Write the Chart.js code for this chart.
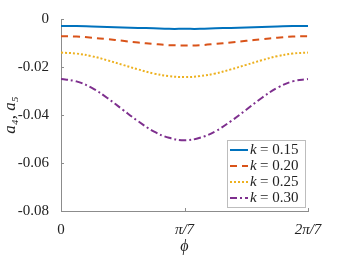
<!DOCTYPE html>
<html>
<head>
<meta charset="utf-8">
<script src="https://cdn.jsdelivr.net/npm/chart.js@4.4.0/dist/chart.umd.min.js"></script>
<style>
  html, body { margin: 0; padding: 0; background: #fff; }
  #wrap { width: 341px; height: 256px; position: relative; }
</style>
</head>
<body>
<div id="wrap"><canvas id="kChart"></canvas></div>
<script>
// phi in units of pi/7
const phi = [0, 0.125, 0.25, 0.375, 0.5, 0.625, 0.75, 0.875, 1, 1.125, 1.25, 1.375, 1.5, 1.625, 1.75, 1.875, 2];
const k015 = [-0.0029, -0.0029, -0.0031, -0.0033, -0.0035, -0.0037, -0.0039, -0.0041, -0.0041, -0.0041, -0.0039, -0.0037, -0.0035, -0.0033, -0.0031, -0.0029, -0.0029];
const k020 = [-0.0072, -0.0073, -0.0078, -0.0084, -0.0091, -0.0098, -0.0104, -0.0109, -0.0110, -0.0109, -0.0104, -0.0098, -0.0091, -0.0084, -0.0078, -0.0073, -0.0072];
const k025 = [-0.0140, -0.0144, -0.0155, -0.0172, -0.0191, -0.0210, -0.0227, -0.0238, -0.0242, -0.0238, -0.0227, -0.0210, -0.0191, -0.0172, -0.0155, -0.0144, -0.0140];
const k030 = [-0.0250, -0.0260, -0.0287, -0.0329, -0.0378, -0.0426, -0.0468, -0.0495, -0.0505, -0.0495, -0.0468, -0.0426, -0.0378, -0.0329, -0.0287, -0.0260, -0.0250];
const seriesLabels = ['k = 0.15', 'k = 0.20', 'k = 0.25', 'k = 0.30'];
const xTickLabels = ['0', 'π/7', '2π/7'];
const yTicks = [0, -0.02, -0.04, -0.06, -0.08];

const serif = '"Liberation Serif", "DejaVu Serif", serif';
const axisColor = '#8c8c8c';

function pts(ys) {
    return phi.map((x, i) => ({ x: x, y: ys[i] }));
}

// ticks pointing into the plot, and the legend box inside the bottom right
const insidePlugin = {
    id: 'insideTicks',
    afterDraw(chart) {
        const ctx = chart.ctx;
        const area = chart.chartArea;
        const xs = chart.scales.x, ys = chart.scales.y;
        ctx.save();
        ctx.strokeStyle = axisColor;
        ctx.lineWidth = 1;
        ctx.beginPath();
        [0, 1, 2].forEach(v => {
            const px = Math.round(xs.getPixelForValue(v)) + 0.5;
            ctx.moveTo(px, area.bottom);
            ctx.lineTo(px, area.bottom - 3);
        });
        yTicks.forEach(v => {
            const py = Math.round(ys.getPixelForValue(v)) + 0.5;
            ctx.moveTo(area.left, py);
            ctx.lineTo(area.left + 3, py);
        });
        ctx.stroke();

        // legend
        const bw = 78, bh = 67;
        const bx = area.right - bw - 3, by = area.bottom - bh - 4;
        ctx.fillStyle = '#fff';
        ctx.fillRect(bx, by, bw, bh);
        ctx.strokeStyle = '#bdbdbd';
        ctx.strokeRect(bx + 0.5, by + 0.5, bw, bh);
        chart.data.datasets.forEach((ds, i) => {
            const ly = by + 10 + i * 16;
            ctx.strokeStyle = ds.borderColor;
            ctx.lineWidth = 2;
            ctx.setLineDash(ds.borderDash || []);
            ctx.beginPath();
            ctx.moveTo(bx + 3, ly);
            ctx.lineTo(bx + 21, ly);
            ctx.stroke();
            ctx.setLineDash([]);
            ctx.fillStyle = '#222';
            ctx.font = 'italic 15px ' + serif;
            ctx.textBaseline = 'middle';
            ctx.textAlign = 'left';
            ctx.fillText('k', bx + 23, ly);
            ctx.font = '15px ' + serif;
            ctx.fillText('= ' + ds.label.split('= ')[1], bx + 33, ly);
        });
        ctx.restore();
    }
};

const ctx = document.getElementById('kChart');
new Chart(ctx, {
    type: 'line',
    data: {
        datasets: [
            { label: seriesLabels[0], data: pts(k015), borderColor: '#0072BD', borderWidth: 2 },
            { label: seriesLabels[1], data: pts(k020), borderColor: '#D95319', borderWidth: 2, borderDash: [7, 5] },
            { label: seriesLabels[2], data: pts(k025), borderColor: '#EDB120', borderWidth: 2, borderDash: [2, 2] },
            { label: seriesLabels[3], data: pts(k030), borderColor: '#7E2F8E', borderWidth: 2, borderDash: [7, 3, 2, 3] }
        ]
    },
    options: {
        responsive: true,
        maintainAspectRatio: false,
        animation: false,
        layout: { padding: { top: 19, right: 33, left: 0, bottom: 0 } },
        elements: {
            point: { radius: 0 },
            line: { tension: 0.4, fill: false }
        },
        plugins: {
            legend: { display: false },
            tooltip: { enabled: false }
        },
        scales: {
            x: {
                type: 'linear',
                min: 0,
                max: 2,
                afterFit: function(s) { s.height = 45; },
                afterBuildTicks: function(s) { s.ticks = [0, 1, 2].map(v => ({ value: v })); },
                ticks: {
                    color: '#222',
                    font: function(c) {
                        return { family: serif, size: 15, style: c.index === 0 ? 'normal' : 'italic' };
                    },
                    padding: 2,
                    maxRotation: 0,
                    callback: function(v) { return xTickLabels[v]; }
                },
                grid: { display: false },
                border: { color: axisColor, width: 1 },
                title: {
                    display: true,
                    text: 'ϕ',
                    color: '#222',
                    font: { family: serif, size: 16, style: 'italic' },
                    padding: { top: 0, bottom: 0 }
                }
            },
            y: {
                min: -0.08,
                max: 0,
                afterFit: function(s) { s.width = 61; },
                afterBuildTicks: function(s) { s.ticks = yTicks.map(v => ({ value: v })); },
                ticks: {
                    color: '#222',
                    font: { family: serif, size: 15 },
                    padding: 4,
                    callback: function(v) { return v === 0 ? '0' : v.toFixed(2); }
                },
                grid: { display: false },
                border: { color: axisColor, width: 1 },
                title: {
                    display: true,
                    text: 'a₄, a₅',
                    color: '#222',
                    font: { family: serif, size: 17, style: 'italic' },
                    padding: { top: 0, bottom: 0 }
                }
            }
        }
    },
    plugins: [insidePlugin]
});
</script>
</body>
</html>
